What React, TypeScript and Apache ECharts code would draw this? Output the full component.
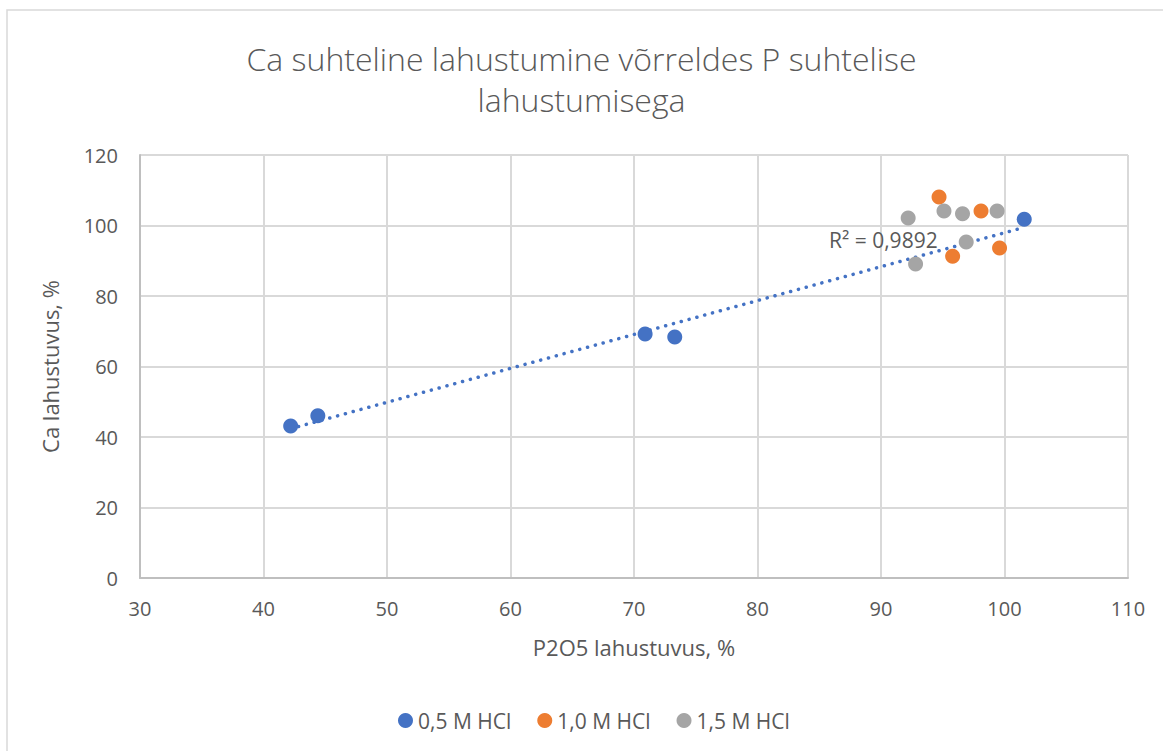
import React, { useEffect, useRef } from "react";
import * as echarts from "echarts";

const TITLE = "Ca suhteline lahustumine võrreldes P suhtelise\nlahustumisega";
const X_NAME = "P2O5 lahustuvus, %";
const Y_NAME = "Ca lahustuvus, %";
const SERIES_NAMES = ["0,5 M HCl", "1,0 M HCl", "1,5 M HCl"];
const COLORS = ["#4472C4", "#ED7D31", "#A5A5A5"];

const hcl05: [number, number][] = [
  [42.2, 43.1],
  [44.4, 46.0],
  [70.9, 69.2],
  [73.3, 68.4],
  [101.6, 101.8],
];
const hcl10: [number, number][] = [
  [94.7, 108.1],
  [98.1, 104.1],
  [95.8, 91.3],
  [99.6, 93.6],
];
const hcl15: [number, number][] = [
  [92.2, 102.1],
  [95.1, 104.1],
  [96.6, 103.3],
  [99.4, 104.1],
  [96.9, 95.3],
  [92.8, 89.1],
];
const R2_LABEL = "R² = 0,9892";

function linearFit(pts: [number, number][]): [number, number][] {
  const n = pts.length;
  const mx = pts.reduce((s, p) => s + p[0], 0) / n;
  const my = pts.reduce((s, p) => s + p[1], 0) / n;
  let sxy = 0, sxx = 0;
  pts.forEach((p) => {
    sxy += (p[0] - mx) * (p[1] - my);
    sxx += (p[0] - mx) * (p[0] - mx);
  });
  const b = sxy / sxx;
  const a = my - b * mx;
  const xs = pts.map((p) => p[0]);
  const x0 = Math.min(...xs);
  const x1 = Math.max(...xs);
  return [
    [x0, a + b * x0],
    [x1, a + b * x1],
  ];
}

const FONT = "'Open Sans', 'Noto Sans', sans-serif";
const TEXT = "#595959";

export default function App() {
  const ref = useRef<HTMLDivElement>(null);
  useEffect(() => {
    if (!ref.current) return;
    const chart = echarts.init(ref.current, undefined, { renderer: "svg" });
    const scatter = (name: string, data: [number, number][], color: string) => ({
      name,
      type: "scatter",
      data,
      symbol: "circle",
      symbolSize: 15,
      itemStyle: { color, opacity: 1 },
      z: 3,
    });
    chart.setOption({
      animation: false,
      backgroundColor: "#fff",
      textStyle: { fontFamily: FONT },
      title: {
        text: TITLE,
        left: "center",
        top: 33,
        textStyle: {
          fontFamily: FONT,
          fontSize: 32,
          fontWeight: 300,
          color: TEXT,
          lineHeight: 41,
        },
      },
      grid: { left: 140, right: 35, top: 155, bottom: 173 },
      xAxis: {
        type: "value",
        min: 30,
        max: 110,
        interval: 10,
        name: X_NAME,
        nameLocation: "middle",
        nameGap: 58,
        nameTextStyle: { fontFamily: FONT, fontSize: 22, color: TEXT },
        axisLine: { show: true, lineStyle: { color: "#BFBFBF", width: 2 } },
        axisTick: { show: false },
        axisLabel: { fontFamily: FONT, fontSize: 20, color: TEXT, margin: 20 },
        splitLine: { show: true, lineStyle: { color: "#D9D9D9", width: 2 } },
      },
      yAxis: {
        type: "value",
        min: 0,
        max: 120,
        interval: 20,
        name: Y_NAME,
        nameLocation: "middle",
        nameGap: 79,
        nameTextStyle: { fontFamily: FONT, fontSize: 22, color: TEXT },
        axisLine: { show: true, lineStyle: { color: "#BFBFBF", width: 2 } },
        axisTick: { show: false },
        axisLabel: { fontFamily: FONT, fontSize: 20, color: TEXT, margin: 22 },
        splitLine: { show: true, lineStyle: { color: "#D9D9D9", width: 2 } },
      },
      legend: {
        data: SERIES_NAMES.map((n) => ({ name: n, icon: "circle" })),
        left: 393,
        top: 705,
        itemWidth: 15,
        itemHeight: 15,
        itemGap: 26,
        textStyle: { fontFamily: FONT, fontSize: 21, color: TEXT },
      },
      graphic: [
        {
          type: "rect",
          shape: { x: 7, y: 10, width: 1300, height: 900 },
          style: { fill: "none", stroke: "#D9D9D9", lineWidth: 1.5 },
          silent: true,
        },
        {
          type: "text",
          left: 829,
          top: 229,
          style: { text: R2_LABEL, fontFamily: FONT, fontSize: 21, fill: TEXT },
          z: 10,
        },
      ],
      series: [
        {
          name: "trend",
          type: "line",
          data: linearFit(hcl05),
          symbol: "none",
          lineStyle: { color: "#4472C4", width: 3.5, type: [0.1, 8], cap: "round" },
          z: 2,
          silent: true,
        },
        scatter(SERIES_NAMES[0], hcl05, COLORS[0]),
        scatter(SERIES_NAMES[1], hcl10, COLORS[1]),
        scatter(SERIES_NAMES[2], hcl15, COLORS[2]),
      ],
    });
    return () => chart.dispose();
  }, []);
  return (
    <div
      ref={ref}
      style={{ position: "fixed", left: 0, top: 0, width: 1163, height: 751 }}
    />
  );
}
